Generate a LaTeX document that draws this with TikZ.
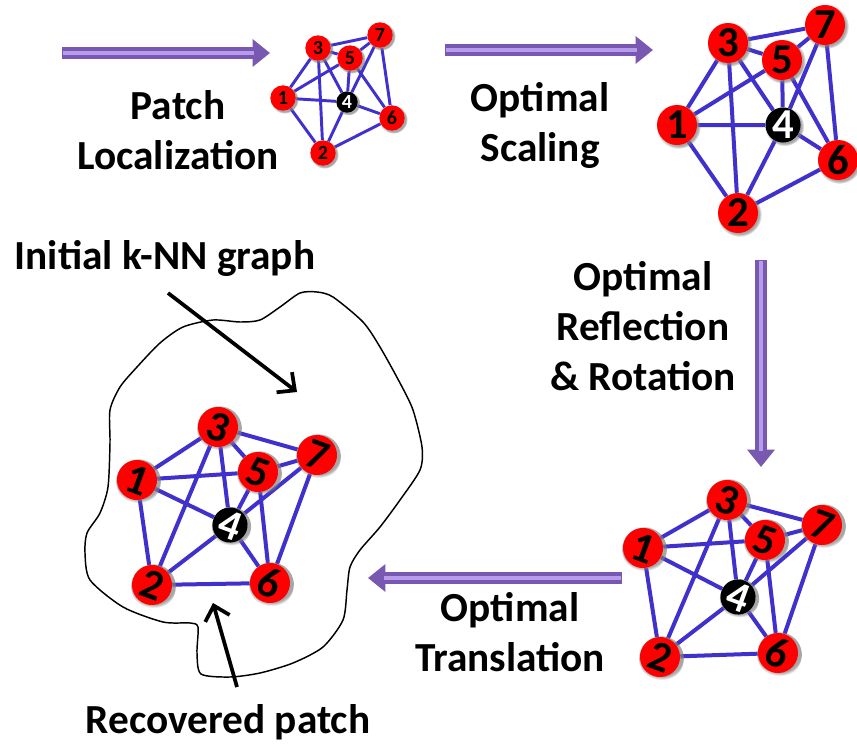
\documentclass[tikz,border=0pt]{standalone}
\usepackage{fontspec}
\setmainfont{Carlito}
\usetikzlibrary{arrows.meta,shadows,backgrounds}

\begin{document}
\begin{tikzpicture}[x=0.75pt,y=0.75pt,yscale=-1,xscale=1,
  redpt/.style={circle,fill={rgb, 255:red, 255; green, 0; blue, 0 },inner sep=0pt,minimum size=30pt,
    font=\fontsize{32}{32}\selectfont\bfseries,
    circular drop shadow={shadow xshift=1pt,shadow yshift=-1pt,shadow scale=1.12,opacity=0.7}},
  blackpt/.style={redpt,fill=black,text=white,minimum size=25pt},
  smallred/.style={redpt,minimum size=19pt,font=\fontsize{15}{15}\selectfont\bfseries},
  smallblack/.style={smallred,fill=black,text=white,minimum size=16pt},
  link/.style={draw={rgb, 255:red, 64; green, 48; blue, 204 },line width=3pt},
  smalllink/.style={link,line width=2.2pt},
  lbl/.style={align=center,inner sep=0.75pt,font=\fontsize{31}{37.5}\selectfont\bfseries},
  stagearrow/.style={draw={rgb, 255:red, 120; green, 88; blue, 176 },line width=9pt,
    -{Triangle[length=13pt,width=20pt]},
    postaction={draw={rgb, 255:red, 184; green, 156; blue, 236 },line width=3pt,-,shorten >=12pt,shorten <=1pt}},
  pointer/.style={line width=2.8pt,-{Straight Barb[length=10pt,width=19pt,line width=2.8pt]}}
]
\useasboundingbox (0,0) rectangle (857,746);

%Shape: Blob [id:initial graph]
\begin{scope}[on background layer]
\draw [line width=1.1pt] plot [smooth cycle,tension=0.45] coordinates {(317,292) (333,297) (363,322) (380,347) (400,383) (413,410) (422,447) (420,470) (400,500) (380,527) (360,550) (350,567) (347,590) (343,620) (323,647) (293,663) (260,673) (230,677) (201,674) (197,653) (198,627) (190,623) (163,622) (123,607) (90,580) (85,553) (87,533) (100,513) (108,487) (110,443) (110,410) (120,387) (137,367) (160,343) (183,327) (213,320) (240,322) (260,320) (280,307) (300,293)};
\end{scope}

%Shape: Circle [id:localized patch]
\node (loc1) at (283,98) [smallred] {1};
\node (loc2) at (323,153) [smallred] {2};
\node (loc3) at (318,48) [smallred] {3};
\node (loc4) at (347,102) [smallblack] {4};
\node (loc5) at (350,58) [smallred] {5};
\node (loc6) at (392,118) [smallred] {6};
\node (loc7) at (380,35) [smallred] {7};

%Shape: Circle [id:scaled patch]
\node (scl1) at (677,125) [redpt] {1};
\node (scl2) at (738,213) [redpt] {2};
\node (scl3) at (728,43) [redpt] {3};
\node (scl4) at (783,125) [blackpt] {4};
\node (scl5) at (782,60) [redpt] {5};
\node (scl6) at (838,160) [redpt] {6};
\node (scl7) at (825,25) [redpt] {7};

%Shape: Circle [id:rotated patch]
\node (rot1) at (643,548) [redpt,rotate=-20] {1};
\node (rot2) at (660,657) [redpt,rotate=-20] {2};
\node (rot3) at (727,500) [redpt,rotate=-20] {3};
\node (rot4) at (738,597) [blackpt,rotate=-20] {4};
\node (rot5) at (765,540) [redpt,rotate=-20] {5};
\node (rot6) at (778,653) [redpt,rotate=-20] {6};
\node (rot7) at (822,525) [redpt,rotate=-20] {7};

%Shape: Circle [id:recovered patch]
\node (trn1) at (137,480) [redpt,rotate=-20] {1};
\node (trn2) at (152,585) [redpt,rotate=-20] {2};
\node (trn3) at (218,427) [redpt,rotate=-20] {3};
\node (trn4) at (230,525) [blackpt,rotate=-20] {4};
\node (trn5) at (258,472) [redpt,rotate=-20] {5};
\node (trn6) at (270,583) [redpt,rotate=-20] {6};
\node (trn7) at (317,455) [redpt,rotate=-20] {7};

%Straight Lines [id:graph edges]
\begin{scope}[on background layer]
\draw [smalllink] (loc1)--(loc3) (loc1)--(loc5) (loc1)--(loc4) (loc1)--(loc2) (loc3)--(loc5) (loc3)--(loc7) (loc3)--(loc4) (loc3)--(loc2) (loc5)--(loc7) (loc5)--(loc4) (loc5)--(loc6) (loc7)--(loc4) (loc7)--(loc6) (loc4)--(loc6) (loc4)--(loc2) (loc2)--(loc6) ;
\draw [link] (scl1)--(scl3) (scl1)--(scl5) (scl1)--(scl4) (scl1)--(scl2) (scl3)--(scl5) (scl3)--(scl7) (scl3)--(scl4) (scl3)--(scl2) (scl5)--(scl7) (scl5)--(scl4) (scl5)--(scl6) (scl7)--(scl4) (scl7)--(scl6) (scl4)--(scl6) (scl4)--(scl2) (scl2)--(scl6) ;
\draw [link] (rot1)--(rot3) (rot1)--(rot5) (rot1)--(rot4) (rot1)--(rot2) (rot3)--(rot5) (rot3)--(rot7) (rot3)--(rot4) (rot3)--(rot2) (rot5)--(rot7) (rot5)--(rot4) (rot5)--(rot6) (rot7)--(rot4) (rot7)--(rot6) (rot4)--(rot6) (rot4)--(rot2) (rot2)--(rot6) ;
\draw [link] (trn1)--(trn3) (trn1)--(trn5) (trn1)--(trn4) (trn1)--(trn2) (trn3)--(trn5) (trn3)--(trn7) (trn3)--(trn4) (trn3)--(trn2) (trn5)--(trn7) (trn5)--(trn4) (trn5)--(trn6) (trn7)--(trn4) (trn7)--(trn6) (trn4)--(trn6) (trn4)--(trn2) (trn2)--(trn6) ;
\end{scope}

%Straight Lines [id:stage arrows]
\coordinate (a1s) at (62,53);
\coordinate (a1e) at (270,53);
\coordinate (a2s) at (445,50);
\coordinate (a2e) at (653,50);
\coordinate (a3s) at (761,260);
\coordinate (a3e) at (761,467);
\coordinate (a4s) at (622,578);
\coordinate (a4e) at (368,578);
\draw [stagearrow] (a1s) -- (a1e) ;
\draw [stagearrow] (a2s) -- (a2e) ;
\draw [stagearrow] (a3s) -- (a3e) ;
\draw [stagearrow] (a4s) -- (a4e) ;

%Straight Lines [id:pointers]
\coordinate (p1s) at (168,293);
\coordinate (p1e) at (297,392);
\coordinate (p2s) at (237,687);
\coordinate (p2e) at (213,603);
\draw [pointer] (p1s) -- (p1e) ;
\draw [pointer] (p2s) -- (p2e) ;

% Text Node
\node (patchtxt) at (178,130) [lbl] {Patch\\Localization};
% Text Node
\node (scaletxt) at (540,125) [lbl] {Optimal\\Scaling};
% Text Node
\node (rottxt) at (643,326) [lbl] {Optimal\\Reflection\\\& Rotation};
% Text Node
\node (transtxt) at (510,632) [lbl] {Optimal\\Translation};
% Text Node
\node (knntxt) at (165,258) [lbl] {Initial k-NN graph};
% Text Node
\node (recovtxt) at (228,722) [lbl] {Recovered patch};

\end{tikzpicture}
\end{document}
